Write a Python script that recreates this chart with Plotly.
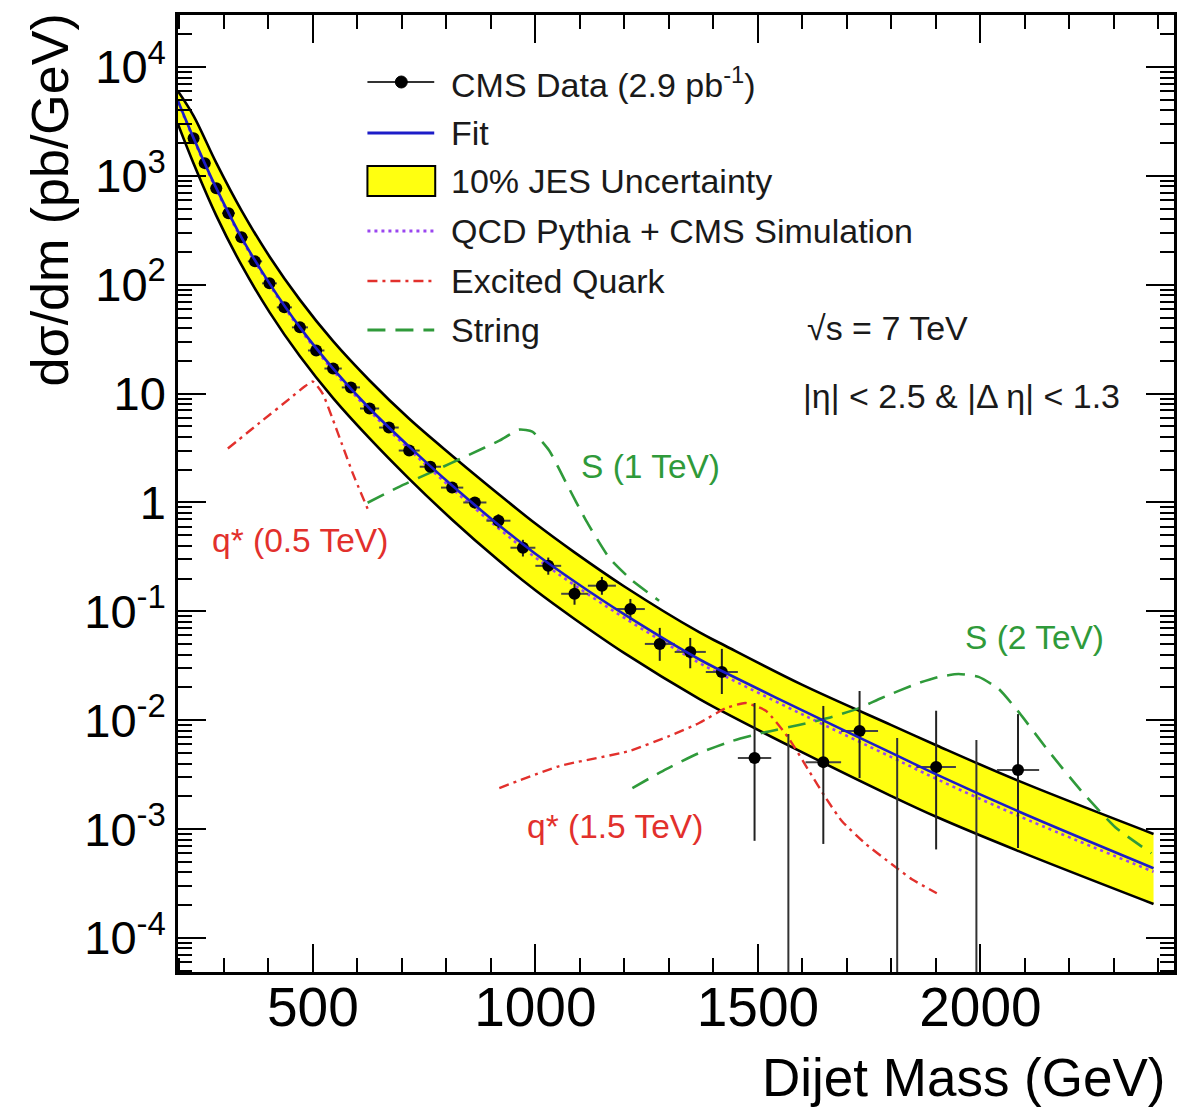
import plotly.graph_objects as go

FONT = "Liberation Sans, Arial, Helvetica, sans-serif"

# ---------------- data ----------------
data_mass = [232, 257, 283, 310.5, 339.5, 370, 402.5, 436, 471, 507.5, 545.5, 585.5,
             627.5, 671, 716.5, 764, 813, 864, 917, 972, 1029, 1088, 1149.5, 1213.5,
             1279.5, 1348, 1419, 1492.5, 1647, 1728.5, 1900.5, 2084.5]
data_xsec = [2220, 1310, 771, 454, 273, 164, 103, 62, 40.6, 24.9, 17.0, 11.4,
             7.3, 4.88, 3.0, 2.13, 1.37, 1.0, 0.68, 0.384, 0.262, 0.145, 0.172, 0.105,
             0.0502, 0.0424, 0.0277, 0.00449, 0.00412, 0.00796, 0.00372, 0.00348]
data_halfwidth = [12, 13, 13, 14.5, 14.5, 16, 16.5, 17, 18, 18.5, 19.5, 20.5,
                  21.5, 22, 23.5, 24, 25, 26, 27, 28, 29, 30, 31.5, 32.5,
                  33.5, 35, 36, 37.5, 40, 41.5, 44.5, 47.5]
data_err_hi = [15, 11, 8, 6, 4, 3, 2.2, 1.6, 1.2, 0.9, 0.7, 0.55,
               0.42, 0.32, 0.24, 0.2, 0.15, 0.12, 0.1, 0.07, 0.05, 0.035, 0.035, 0.025,
               0.0203, 0.0146, 0.0175, 0.0099, 0.0094, 0.0106, 0.0085, 0.0079]
data_err_lo = [15, 11, 8, 6, 4, 3, 2.2, 1.6, 1.2, 0.9, 0.7, 0.55,
               0.42, 0.32, 0.24, 0.2, 0.15, 0.12, 0.1, 0.065, 0.045, 0.03, 0.03, 0.022,
               0.0151, 0.0124, 0.0103, 0.00371, 0.00339, 0.00502, 0.00307, 0.00281]
# empty bins: only an upper error bar is drawn
zero_mass = [1568.5, 1813, 1991]
zero_upper = [0.00746, 0.00686, 0.00658]

curve_mass = [197, 232, 283, 339.5, 402.5, 471, 545.5, 627.5, 716.5, 813, 917, 1000,
              1088, 1200, 1368, 1419, 1600, 1800, 1902, 2086, 2389]
fit_xsec = [4866, 2223, 771, 273, 103, 40.6, 17.0, 7.30, 3.26, 1.43, 0.625, 0.338,
            0.188, 0.0938, 0.0363, 0.0283, 0.0123, 0.00501, 0.00316, 0.00145, 0.000437]
qcd_xsec = [4750, 2170, 750, 265, 100, 39.2, 16.3, 6.95, 3.08, 1.34, 0.58, 0.312,
            0.174, 0.0870, 0.0336, 0.0262, 0.0113, 0.00458, 0.00288, 0.00132, 0.000405]
jes_upper = [6000, 3560, 1315, 482, 182, 72.6, 30.3, 13.2, 5.87, 2.69, 1.197, 0.640,
             0.348, 0.169, 0.0643, 0.0501, 0.0211, 0.00902, 0.00586, 0.00277, 0.000902]
jes_lower = [2985, 1300, 432, 152, 56.1, 22.0, 9.10, 3.88, 1.65, 0.695, 0.294, 0.156,
             0.0851, 0.0413, 0.0157, 0.0121, 0.00506, 0.00201, 0.00129, 0.000627, 0.000205]

qstar05_mass = [309, 381, 448, 480, 500, 522, 545, 565, 590, 623]
qstar05_xsec = [3.13, 5.42, 9.0, 11.5, 12.9, 10.0, 5.78, 3.47, 1.84, 0.877]
qstar15_mass = [919, 1054, 1211, 1301, 1368, 1428, 1472, 1518, 1569, 1615, 1653, 1689,
                1743, 1801, 1846, 1902]
qstar15_xsec = [0.00238, 0.00379, 0.00521, 0.00716, 0.00942, 0.0129, 0.0144, 0.0122,
                0.00686, 0.00341, 0.00192, 0.00118, 0.000726, 0.000475, 0.000346, 0.000257]
string1_mass = [623, 695, 769, 852, 919, 964, 993, 1031, 1069, 1114, 1166, 1218, 1278]
string1_xsec = [0.995, 1.40, 1.92, 2.75, 3.70, 4.67, 4.48, 3.0, 1.52, 0.681, 0.31, 0.191, 0.125]
string2_mass = [1218, 1294, 1368, 1442, 1518, 1592, 1666, 1727, 1778, 1855, 1907, 1951,
                1996, 2041, 2088, 2153, 2227, 2303, 2384]
string2_xsec = [0.00238, 0.00356, 0.00499, 0.00644, 0.00779, 0.00903, 0.0107, 0.0129,
                0.0160, 0.0215, 0.0250, 0.0266, 0.0250, 0.0194, 0.0116, 0.00521, 0.00223,
                0.00104, 0.000600]

y_tick_vals = [1e-4, 1e-3, 1e-2, 1e-1, 1, 10, 1e2, 1e3, 1e4]
y_tick_text = ["10<sup>-4</sup>", "10<sup>-3</sup>", "10<sup>-2</sup>", "10<sup>-1</sup>",
               "1", "10", "10<sup>2</sup>", "10<sup>3</sup>", "10<sup>4</sup>"]
x_tick_vals = [500, 1000, 1500, 2000]

legend_labels = ["CMS Data (2.9 pb<sup>-1</sup>)", "Fit", "10% JES Uncertainty",
                 "QCD Pythia + CMS Simulation", "Excited Quark", "String"]

# ---------------- colours / styles ----------------
C_FIT = "#1c1cc8"
C_QCD = "#9a46f0"
C_RED = "#e2302c"
C_GREEN = "#2f9a3a"
C_YEL = "#ffff10"
DASH_Q = "10px,5px,3px,5px"
DASH_S = "18px,10px"
DOT = "3px,4px"

# plot-area geometry in pixels (for placing the hand-made legend and labels)
W, H = 1181, 1111
L, R, T, B = 178, 4, 15, 139
PW, PH = W - L - R, H - T - B


def px(x):
    return (x - L) / PW


def py(y):
    return (H - B - y) / PH


fig = go.Figure()

# JES band
fig.add_trace(go.Scatter(x=curve_mass, y=jes_lower, mode="lines",
                         line=dict(color="black", width=2.6, shape="spline", smoothing=1.0),
                         hoverinfo="skip", showlegend=False))
fig.add_trace(go.Scatter(x=curve_mass, y=jes_upper, mode="lines", fill="tonexty",
                         fillcolor=C_YEL,
                         line=dict(color="black", width=2.6, shape="spline", smoothing=1.0),
                         hoverinfo="skip", showlegend=False))

# QCD prediction
fig.add_trace(go.Scatter(x=curve_mass, y=qcd_xsec, mode="lines",
                         line=dict(color=C_QCD, width=2.6, dash=DOT, shape="spline", smoothing=1.0),
                         showlegend=False))

# signal curves
fig.add_trace(go.Scatter(x=qstar05_mass, y=qstar05_xsec, mode="lines",
                         line=dict(color=C_RED, width=2.4, dash=DASH_Q, shape="spline", smoothing=0.5),
                         showlegend=False))
fig.add_trace(go.Scatter(x=qstar15_mass, y=qstar15_xsec, mode="lines",
                         line=dict(color=C_RED, width=2.4, dash=DASH_Q, shape="spline", smoothing=0.5),
                         showlegend=False))
fig.add_trace(go.Scatter(x=string1_mass, y=string1_xsec, mode="lines",
                         line=dict(color=C_GREEN, width=2.6, dash=DASH_S, shape="spline", smoothing=0.5),
                         showlegend=False))
fig.add_trace(go.Scatter(x=string2_mass, y=string2_xsec, mode="lines",
                         line=dict(color=C_GREEN, width=2.6, dash=DASH_S, shape="spline", smoothing=0.5),
                         showlegend=False))

# empty-bin upper error bars
zx, zy = [], []
for m, u in zip(zero_mass, zero_upper):
    zx += [m, m, None]
    zy += [1e-7, u, None]
fig.add_trace(go.Scatter(x=zx, y=zy, mode="lines", line=dict(color="#333333", width=2),
                         showlegend=False, hoverinfo="skip"))

# data
fig.add_trace(go.Scatter(
    x=data_mass, y=data_xsec, mode="markers",
    marker=dict(color="black", size=12),
    error_y=dict(type="data", symmetric=False, array=data_err_hi, arrayminus=data_err_lo,
                 color="#222222", thickness=2, width=0),
    error_x=dict(type="data", array=data_halfwidth, color="#444444", thickness=2, width=0),
    showlegend=False))

# fit on top
fig.add_trace(go.Scatter(x=curve_mass, y=fit_xsec, mode="lines",
                         line=dict(color=C_FIT, width=2.6, shape="spline", smoothing=1.0),
                         showlegend=False))

# ---------------- axes ----------------
fig.update_xaxes(
    range=[197, 2435], tickvals=x_tick_vals, ticks="inside", ticklen=28, tickwidth=2,
    tickcolor="black", mirror="allticks", showline=True, linecolor="black", linewidth=2.5,
    showgrid=False, zeroline=False, tickfont=dict(size=55, color="black", family=FONT),
    ticklabelstandoff=-15,
    minor=dict(tickvals=list(range(200, 2500, 100)), ticks="inside", ticklen=14,
               tickwidth=2, tickcolor="black", showgrid=False))
fig.update_yaxes(
    type="log", range=[-4.313, 4.478], tickvals=y_tick_vals, ticktext=y_tick_text,
    ticks="inside", ticklen=28, tickwidth=2, tickcolor="black", mirror="allticks",
    showline=True, linecolor="black", linewidth=2.5, showgrid=False, zeroline=False,
    tickfont=dict(size=47, color="black", family=FONT),
    minor=dict(tickvals=[k * 10.0 ** e for e in range(-5, 5) for k in range(2, 10)],
               ticks="inside", ticklen=14, tickwidth=2, tickcolor="black", showgrid=False))

# ---------------- hand-made legend ----------------
rows = [82, 133, 181, 231, 281, 330]
shapes = []
sx0, sx1 = px(368), px(435)
shapes.append(dict(type="line", xref="paper", yref="paper", x0=sx0, x1=sx1,
                   y0=py(rows[0]), y1=py(rows[0]), line=dict(color="#333333", width=2)))
shapes.append(dict(type="circle", xref="paper", yref="paper", x0=px(396), x1=px(408),
                   y0=py(rows[0] + 6), y1=py(rows[0] - 6), fillcolor="black",
                   line=dict(color="black", width=1)))
shapes.append(dict(type="line", xref="paper", yref="paper", x0=sx0, x1=sx1,
                   y0=py(rows[1]), y1=py(rows[1]), line=dict(color=C_FIT, width=3)))
shapes.append(dict(type="rect", xref="paper", yref="paper", x0=px(368), x1=px(436),
                   y0=py(rows[2] + 15), y1=py(rows[2] - 15), fillcolor=C_YEL,
                   line=dict(color="black", width=2)))
shapes.append(dict(type="line", xref="paper", yref="paper", x0=sx0, x1=sx1,
                   y0=py(rows[3]), y1=py(rows[3]), line=dict(color=C_QCD, width=3, dash=DOT)))
shapes.append(dict(type="line", xref="paper", yref="paper", x0=sx0, x1=sx1,
                   y0=py(rows[4]), y1=py(rows[4]), line=dict(color=C_RED, width=2.6, dash=DASH_Q)))
shapes.append(dict(type="line", xref="paper", yref="paper", x0=sx0, x1=sx1,
                   y0=py(rows[5]), y1=py(rows[5]), line=dict(color=C_GREEN, width=3, dash=DASH_S)))

annotations = []
for r, lab in zip(rows, legend_labels):
    annotations.append(dict(text=lab, xref="paper", yref="paper", x=px(450), y=py(r),
                            xanchor="left", yanchor="middle", showarrow=False,
                            font=dict(size=34, color="#1a1a1a", family=FONT)))


def label(text, x, y, color, size=33.5, xanchor="center"):
    return dict(text=text, xref="paper", yref="paper", x=px(x), y=py(y),
                xanchor=xanchor, yanchor="middle", showarrow=False,
                font=dict(size=size, color=color, family=FONT))


annotations += [
    label("√s = 7 TeV", 807, 328, "#1a1a1a", size=34, xanchor="left"),
    label("|η| < 2.5 &amp; |Δ η| < 1.3", 803, 396, "#1a1a1a", size=34, xanchor="left"),
    label("q* (0.5 TeV)", 300, 540, C_RED),
    label("q* (1.5 TeV)", 616, 826, C_RED),
    label("S (1 TeV)", 652, 467, C_GREEN),
    label("S (2 TeV)", 1037, 637, C_GREEN),
    dict(text="Dijet Mass (GeV)", xref="paper", yref="paper", x=px(1170), y=py(1077),
         xanchor="right", yanchor="middle", showarrow=False,
         font=dict(size=53, color="black", family=FONT)),
    dict(text="dσ/dm (pb/GeV)", xref="paper", yref="paper", x=px(50), y=py(200),
         xanchor="center", yanchor="middle", textangle=-90, showarrow=False,
         font=dict(size=52, color="black", family=FONT)),
]

fig.update_layout(
    width=W, height=H, margin=dict(l=L, r=R, t=T, b=B),
    paper_bgcolor="white", plot_bgcolor="white",
    font=dict(family=FONT, color="black"),
    shapes=shapes, annotations=annotations, showlegend=False)

fig.write_html("out.html")
